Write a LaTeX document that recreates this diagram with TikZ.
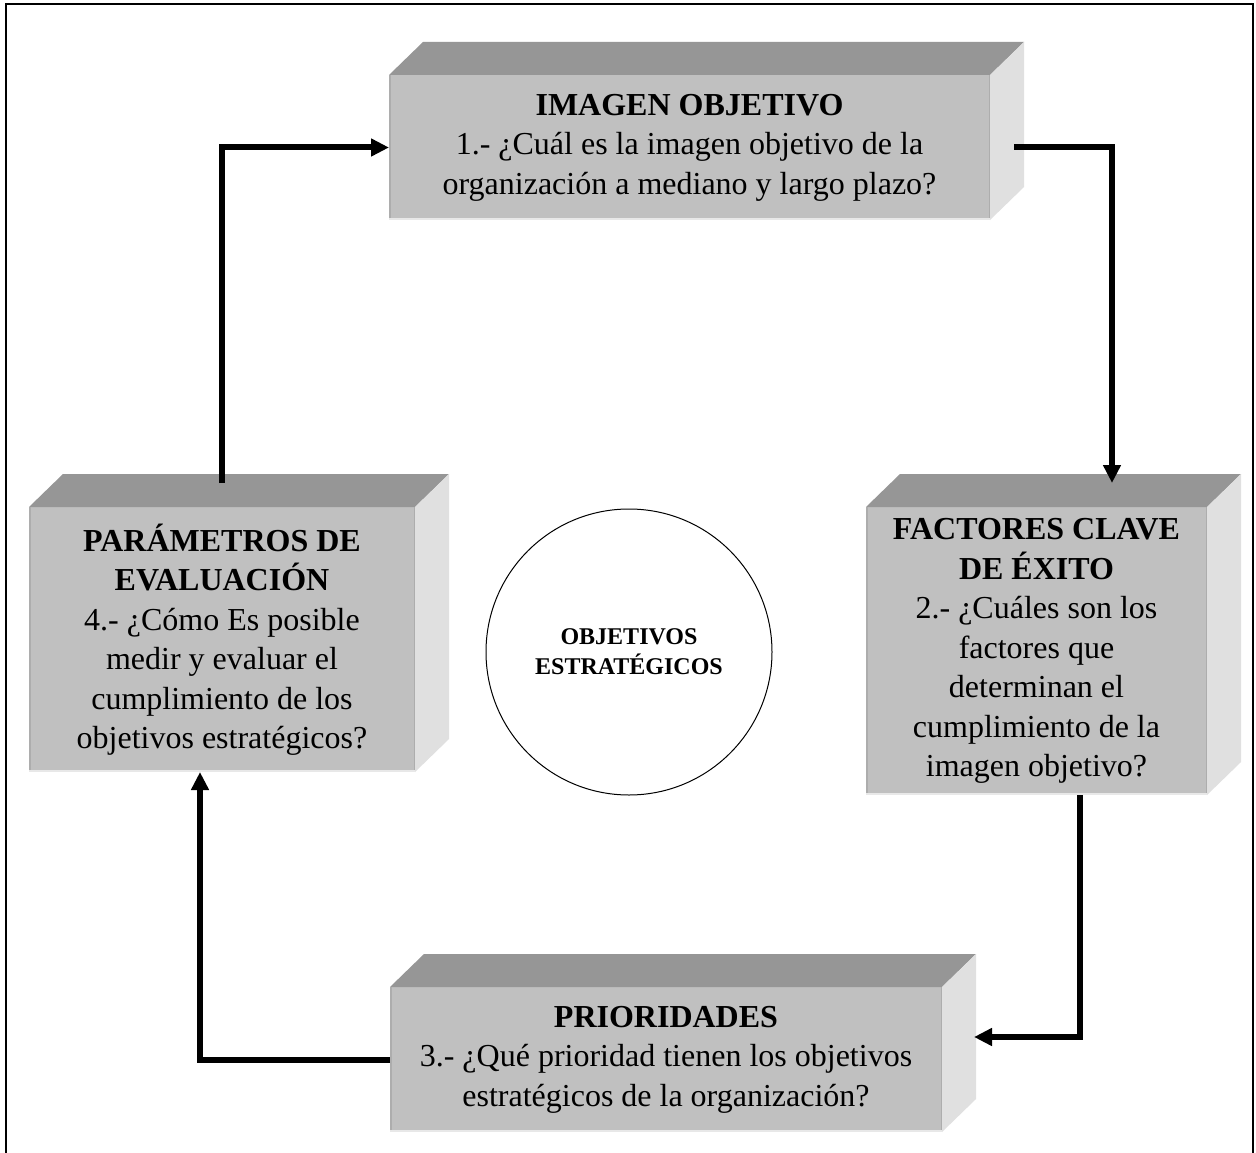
\documentclass[tikz,border=0pt]{standalone}
\usepackage{fontspec}
\setmainfont{Liberation Serif}
\usetikzlibrary{arrows.meta,calc}
\definecolor{frontc}{HTML}{C0C0C0}
\definecolor{topc}{HTML}{969696}
\definecolor{sidec}{HTML}{E0E0E0}
\definecolor{edgedark}{HTML}{ADADAD}
\definecolor{edgelight}{HTML}{E8E8E8}
\tikzset{
  frontbox/.style={fill=frontc, draw=none, outer sep=0pt, inner sep=0pt, align=center,
    font=\fontsize{32}{39.5}\selectfont},
  topface/.style={fill=topc, draw=none},
  sideface/.style={fill=sidec, draw=none},
  arr/.style={line width=6pt, -{Triangle[length=18pt,width=17pt]}},
  circ/.style={circle, draw=black, line width=1pt, fill=white, inner sep=0pt, align=center,
    font=\fontsize{24}{30}\selectfont\bfseries}
}
\newcommand{\depthfaces}[1]{%
  \fill[topface] (#1.north west) -- ++(34,-33) -- ([shift={(34,-33)}]#1.north east) -- (#1.north east) -- cycle;
  \fill[sideface] (#1.north east) -- ++(34,-33) -- ([shift={(34,-33)}]#1.south east) -- (#1.south east) -- cycle;
  \draw[edgedark, line width=1.5pt] ([xshift=0.75pt]#1.north west) -- ([xshift=0.75pt]#1.south west);
  \draw[edgedark, line width=1.5pt] ([xshift=-0.75pt]#1.north east) -- ([xshift=-0.75pt]#1.south east);
  \draw[edgelight, line width=2pt] ([yshift=1pt]#1.south west) -- ([yshift=1pt]#1.south east);
}
\begin{document}
\begin{tikzpicture}[x=1pt,y=-1pt]
\useasboundingbox[fill=white] (0,0) rectangle (1256,1153);
% outer frame
\draw[line width=2pt] (5.5,1153) -- (5.5,4) -- (1253,4) -- (1253,1153);

% box 1
\node[frontbox, minimum width=601pt, minimum height=145pt] (b1) at (689.5,147.5)
  {\textbf{IMAGEN OBJETIVO}\\1.- ¿Cuál es la imagen objetivo de la\\organización a mediano y largo plazo?};
\depthfaces{b1}
% box 2
\node[frontbox, minimum width=341pt, minimum height=288pt] (b2) at (1036.5,651)
  {\textbf{FACTORES CLAVE}\\\textbf{DE ÉXITO}\\2.- ¿Cuáles son los\\factores que\\determinan el\\cumplimiento de la\\imagen objetivo?};
\depthfaces{b2}
% box 3
\node[frontbox, minimum width=552pt, minimum height=145pt] (b3) at (666,1059.5)
  {\textbf{PRIORIDADES}\\3.- ¿Qué prioridad tienen los objetivos\\estratégicos de la organización?};
\depthfaces{b3}
% box 4
\node[frontbox, minimum width=386pt, minimum height=265pt] (b4) at (222,639.5)
  {\textbf{PARÁMETROS DE}\\\textbf{EVALUACIÓN}\\4.- ¿Cómo Es posible\\medir y evaluar el\\cumplimiento de los\\objetivos estratégicos?};
\depthfaces{b4}

% centre circle
\node[circ, minimum size=286pt] (c) at (629,652) {OBJETIVOS\\ESTRATÉGICOS};

% connectors
\draw[arr] ([yshift=24pt]b4.north) |- (b1.west);
\draw[arr] ([xshift=24pt]b1.east) -| ([xshift=75.5pt,yshift=24pt]b2.north);
\draw[arr] ([xshift=43.5pt]b2.south) |- ([xshift=32pt,yshift=22.5pt]b3.east);
\draw[arr] (b3.west) -| ([xshift=-22pt]b4.south);
\end{tikzpicture}
\end{document}
